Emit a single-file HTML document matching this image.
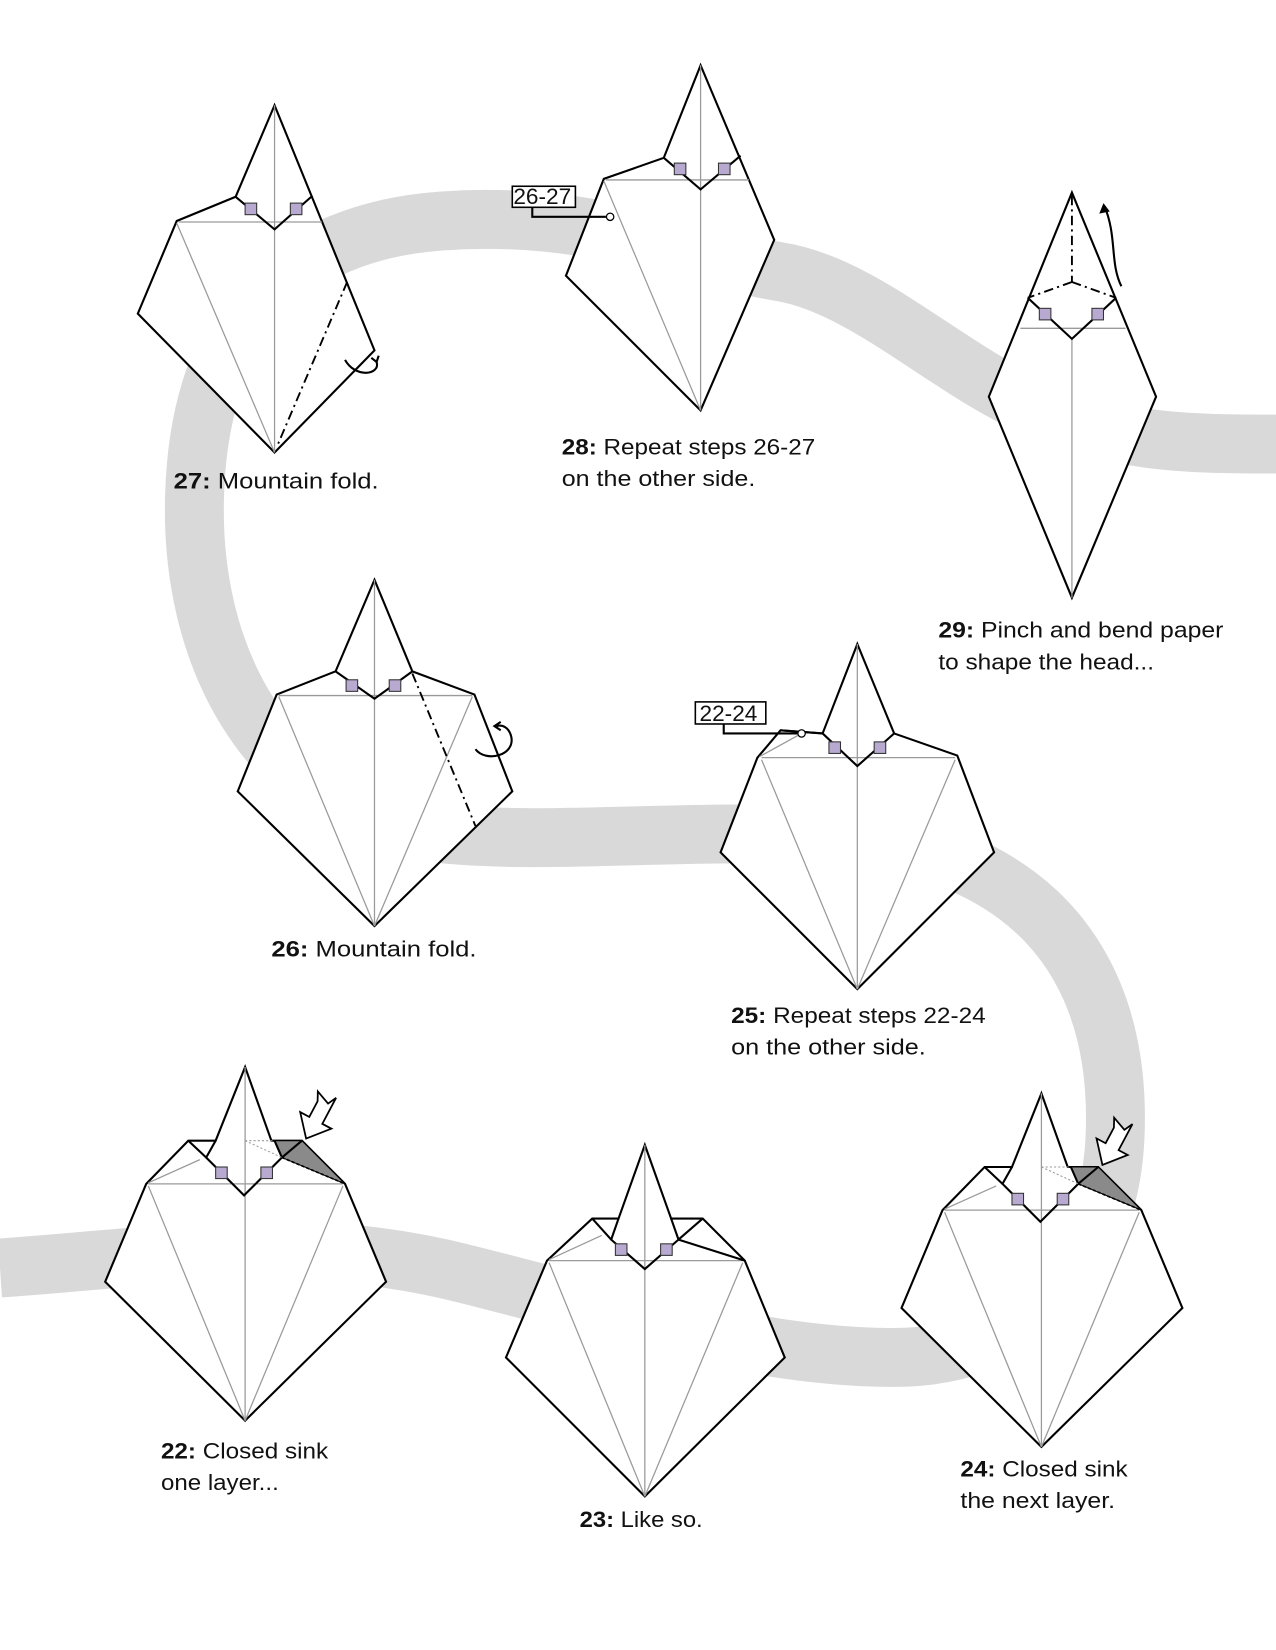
<!DOCTYPE html>
<html><head><meta charset="utf-8"><style>
html,body{margin:0;padding:0;background:#fff}
svg{display:block}
text{font-family:"Liberation Sans",sans-serif;font-size:21.5px;fill:#111}
.o{fill:#fff;stroke:#000;stroke-width:2;stroke-linejoin:miter}
.g{stroke:#9a9a9a;stroke-width:1.2;fill:none}
.k{stroke:#000;stroke-width:2;fill:none}
.dd{stroke:#000;stroke-width:1.8;fill:none;stroke-dasharray:9 4 2 4}
.sq{fill:#b7a9cf;stroke:#333;stroke-width:1}
</style></head><body>
<svg width="1276" height="1650" viewBox="0 0 1213 1568" preserveAspectRatio="none">
<path d="M1213,422 C1120,422 1060,420 980,385 C900,350 820,270 740,258 C640,240 560,200 420,210 C280,220 190,300 185,470 C180,620 250,760 400,790 C550,810 750,770 900,815 C1020,860 1065,960 1060,1080 C1055,1200 980,1290 850,1290 C720,1290 600,1250 440,1210 C280,1170 150,1195 0,1205" fill="none" stroke="#d9d9d9" stroke-width="56"/>

<!-- 27 -->
<g>
<polygon class="o" points="261,100 356,333 261,430 131,298 168,210 224,187"/>
<line class="g" x1="261" y1="100" x2="261" y2="430"/>
<line class="g" x1="170" y1="211" x2="306" y2="211"/>
<line class="g" x1="168" y1="212" x2="261" y2="430"/>
<polyline class="k" points="224,187 261,218 297,186"/>
<rect class="sq" x="233" y="193" width="11" height="11"/><rect class="sq" x="276" y="193" width="11" height="11"/>
<line class="dd" x1="330" y1="268" x2="263" y2="425"/>
<path d="M328,342 C338,360 362,356 358,344" class="k" stroke-width="1.3"/>
<path d="M353,340 L358,344 L360,338" class="k" stroke-width="1.3"/>
<text x="165" y="464" textLength="195" lengthAdjust="spacingAndGlyphs"><tspan font-weight="bold">27:</tspan> Mountain fold.</text>
</g>

<!-- 28 -->
<g>
<polygon class="o" points="666,62 736,228 666,390 538,262 574,170 631,150"/>
<line class="g" x1="666" y1="62" x2="666" y2="390"/>
<line class="g" x1="576" y1="171" x2="712" y2="171"/>
<line class="g" x1="574" y1="172" x2="666" y2="390"/>
<polyline class="k" points="631,150 666,180 704,148"/>
<rect class="sq" x="641" y="155" width="11" height="11"/><rect class="sq" x="683" y="155" width="11" height="11"/>
<rect x="487" y="177" width="60" height="20" fill="#fff" stroke="#000" stroke-width="1.5"/>
<text x="488" y="194" font-size="19">26-27</text>
<polyline class="k" stroke-width="1.2" points="506,197 506,206 576,206"/>
<circle cx="580" cy="206" r="3.5" fill="#fff" stroke="#000" stroke-width="1.2"/>
<text x="534" y="432" textLength="241" lengthAdjust="spacingAndGlyphs"><tspan font-weight="bold">28:</tspan> Repeat steps 26-27</text>
<text x="534" y="462" textLength="184" lengthAdjust="spacingAndGlyphs">on the other side.</text>
</g>

<!-- 29 -->
<g>
<polygon class="o" points="1019,183 1099,377 1019,568 940,377"/>
<line class="g" x1="1019" y1="322" x2="1019" y2="568"/>
<line class="g" x1="970" y1="312" x2="1070" y2="312"/>
<polyline class="k" points="977,283 1019,322 1061,283"/>
<line class="dd" x1="1019" y1="186" x2="1019" y2="268"/>
<line class="dd" x1="1019" y1="268" x2="977" y2="283"/>
<line class="dd" x1="1019" y1="268" x2="1061" y2="283"/>
<rect class="sq" x="988" y="293" width="11" height="11"/><rect class="sq" x="1038" y="293" width="11" height="11"/>
<path d="M1066,272 C1055,250 1062,225 1050,196" class="k" stroke-width="1.3"/>
<path d="M1045,203 L1049,193 L1055,201 Z" fill="#000"/>
<text x="892" y="606" textLength="271" lengthAdjust="spacingAndGlyphs"><tspan font-weight="bold">29:</tspan> Pinch and bend paper</text>
<text x="892" y="636" textLength="205" lengthAdjust="spacingAndGlyphs">to shape the head...</text>
</g>

<!-- 26 -->
<g>
<polygon class="o" points="356,551 392,638 451,660 487,752 356,880 226,752 263,660 319,638"/>
<line class="g" x1="356" y1="551" x2="356" y2="880"/>
<line class="g" x1="265" y1="661" x2="449" y2="661"/>
<line class="g" x1="265" y1="662" x2="356" y2="880"/>
<line class="g" x1="449" y1="662" x2="356" y2="880"/>
<polyline class="k" points="319,638 356,664 392,638"/>
<rect class="sq" x="329" y="646" width="11" height="11"/><rect class="sq" x="370" y="646" width="11" height="11"/>
<line class="dd" x1="392" y1="640" x2="452" y2="785"/>
<path d="M452,712 C462,725 490,718 486,700 C484,692 478,688 472,690" class="k" stroke-width="1.3"/>
<path d="M476,686 L470,690 L476,694" class="k" stroke-width="1.3"/>
<text x="258" y="909" textLength="195" lengthAdjust="spacingAndGlyphs"><tspan font-weight="bold">26:</tspan> Mountain fold.</text>
</g>

<!-- 25 -->
<g>
<polygon class="o" points="815,612 850,697 910,718 945,810 815,940 685,810 720,720 742,694 782,697"/>
<line class="g" x1="815" y1="612" x2="815" y2="940"/>
<line class="g" x1="724" y1="720" x2="908" y2="720"/>
<line class="g" x1="724" y1="722" x2="815" y2="940"/>
<line class="g" x1="908" y1="722" x2="815" y2="940"/>
<line class="g" x1="722" y1="719" x2="762" y2="697"/>
<polyline class="k" points="782,697 815,728 850,697"/>
<line class="k" x1="742" y1="694" x2="782" y2="697"/>
<rect class="sq" x="788" y="705" width="11" height="11"/><rect class="sq" x="831" y="705" width="11" height="11"/>
<rect x="661" y="667" width="67" height="21" fill="#fff" stroke="#000" stroke-width="1.5"/>
<text x="665" y="685" font-size="19">22-24</text>
<polyline class="k" stroke-width="1.2" points="688,688 688,697 758,697"/>
<circle cx="762" cy="697" r="3.5" fill="#fff" stroke="#000" stroke-width="1.2"/>
<text x="695" y="972" textLength="242" lengthAdjust="spacingAndGlyphs"><tspan font-weight="bold">25:</tspan> Repeat steps 22-24</text>
<text x="695" y="1002" textLength="185" lengthAdjust="spacingAndGlyphs">on the other side.</text>
</g>

<!-- 22 -->
<g id="f22">
<polygon class="o" points="233,1014 258,1084 287,1084 328,1125 367,1218 233,1350 100,1218 139,1125 179,1084 205,1084"/>
<polygon points="261,1084 287,1084 328,1125 268,1100" fill="#8a8a8a" stroke="#000" stroke-width="1"/>
<line class="g" x1="233" y1="1014" x2="233" y2="1350"/>
<line class="g" x1="141" y1="1125" x2="326" y2="1125"/>
<line class="g" x1="141" y1="1127" x2="233" y2="1350"/>
<line class="g" x1="326" y1="1127" x2="233" y2="1350"/>
<line class="g" x1="141" y1="1124" x2="190" y2="1102"/>
<polyline class="k" points="205,1084 196,1100 232,1136 268,1100 261,1084"/>
<line class="k" x1="179" y1="1084" x2="196" y2="1100"/>
<line class="k" x1="287" y1="1084" x2="268" y2="1100"/>
<line x1="233" y1="1084" x2="261" y2="1084" stroke="#999" stroke-width="1" stroke-dasharray="2 2"/>
<line x1="233" y1="1084" x2="268" y2="1100" stroke="#999" stroke-width="1" stroke-dasharray="2 2"/>
<line x1="268" y1="1100" x2="328" y2="1125" stroke="#000" stroke-width="1.6" stroke-dasharray="3 2"/>
<rect class="sq" x="205" y="1109" width="11" height="11"/><rect class="sq" x="248" y="1109" width="11" height="11"/>
<path transform="translate(291,1082) rotate(28) scale(1.4)" d="M0,0 L-12,-14 L-5,-14 L-5,-26 L-8,-32 L2,-28 L5,-34 L5,-14 L12,-14 Z" fill="#fff" stroke="#000" stroke-width="1.2" stroke-linejoin="miter"/>
</g>
<text x="153" y="1386" textLength="159" lengthAdjust="spacingAndGlyphs"><tspan font-weight="bold">22:</tspan> Closed sink</text>
<text x="153" y="1416" textLength="112" lengthAdjust="spacingAndGlyphs">one layer...</text>

<!-- 24 -->
<use href="#f22" transform="translate(757,25)"/>
<text x="913" y="1403" textLength="159" lengthAdjust="spacingAndGlyphs"><tspan font-weight="bold">24:</tspan> Closed sink</text>
<text x="913" y="1433" textLength="147" lengthAdjust="spacingAndGlyphs">the next layer.</text>

<!-- 23 -->
<g>
<polygon class="o" points="613,1088 638,1158 668,1158 708,1198 746,1290 613,1422 481,1290 520,1198 563,1158 588,1158"/>
<line class="g" x1="613" y1="1088" x2="613" y2="1422"/>
<line class="g" x1="522" y1="1198" x2="706" y2="1198"/>
<line class="g" x1="522" y1="1200" x2="613" y2="1422"/>
<line class="g" x1="706" y1="1200" x2="613" y2="1422"/>
<line class="g" x1="522" y1="1197" x2="572" y2="1174"/>
<polyline class="k" points="588,1158 581,1178 613,1206 645,1178 638,1158"/>
<line class="k" x1="563" y1="1158" x2="581" y2="1178"/>
<line class="k" x1="668" y1="1158" x2="645" y2="1178"/>
<line class="k" x1="645" y1="1178" x2="708" y2="1198"/>
<rect class="sq" x="585" y="1182" width="11" height="11"/><rect class="sq" x="628" y="1182" width="11" height="11"/>
<text x="551" y="1451" textLength="117" lengthAdjust="spacingAndGlyphs"><tspan font-weight="bold">23:</tspan> Like so.</text>
</g>
</svg>
</body></html>
